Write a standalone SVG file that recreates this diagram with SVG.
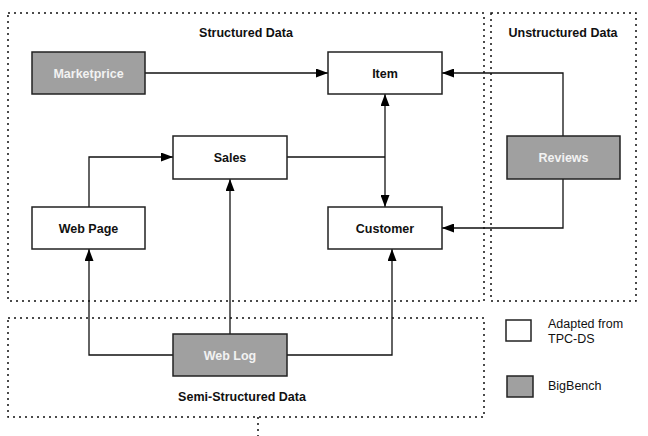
<svg xmlns="http://www.w3.org/2000/svg" width="648" height="436" viewBox="0 0 648 436">
<defs>
<marker id="arr" viewBox="0 0 12 10" refX="12" refY="5" markerWidth="12" markerHeight="9" markerUnits="userSpaceOnUse" orient="auto-start-reverse" preserveAspectRatio="none">
<path d="M0,0 L12,5 L0,10 z" fill="#000"/>
</marker>
<style>
.grp{fill:none;stroke:#111;stroke-width:1.5;stroke-dasharray:2 4}
.node{fill:#fff;stroke:#222;stroke-width:1.5}
.big{fill:#a0a0a0;stroke:#222;stroke-width:1.5}
.lbl{font-family:"Liberation Sans",Arial,sans-serif;font-size:12.5px;font-weight:bold;text-anchor:middle;fill:#111}
.lblw{font-family:"Liberation Sans",Arial,sans-serif;font-size:12.5px;font-weight:bold;text-anchor:middle;fill:#f2f2f2}
.leg{font-family:"Liberation Sans",Arial,sans-serif;font-size:12.5px;fill:#111}
.edge{fill:none;stroke:#111;stroke-width:1.3}
</style>
</defs>
<rect width="648" height="436" fill="#fff"/>
<g id="groups">
<rect class="grp" x="8" y="13" width="476" height="288"/>
<rect class="grp" x="491" y="13" width="145" height="288"/>
<rect class="grp" x="8" y="318" width="476" height="99"/>
<line class="grp" x1="258" y1="417" x2="258" y2="436"/>
<text class="lbl" x="246" y="37">Structured Data</text>
<text class="lbl" x="563" y="37">Unstructured Data</text>
<text class="lbl" x="242" y="401">Semi-Structured Data</text>
</g>
<g id="connectors">
<path class="edge" d="M145,73 H328" marker-end="url(#arr)"/>
<path class="edge" d="M563,136 V73 H442" marker-end="url(#arr)"/>
<path class="edge" d="M563,179 V228 H442" marker-end="url(#arr)"/>
<path class="edge" d="M287,157 H385"/>
<path class="edge" d="M385,94 V207" marker-start="url(#arr)" marker-end="url(#arr)"/>
<path class="edge" d="M89,207 V157 H173" marker-end="url(#arr)"/>
<path class="edge" d="M230,334 V179" marker-end="url(#arr)"/>
<path class="edge" d="M173,355 H89 V249" marker-end="url(#arr)"/>
<path class="edge" d="M287,355 H392 V249" marker-end="url(#arr)"/>
</g>
<g id="marketprice"><rect class="big" x="32" y="52" width="113" height="42"/><text class="lblw" x="88.5" y="77.5">Marketprice</text></g>
<g id="item"><rect class="node" x="328" y="52" width="114" height="42"/><text class="lbl" x="385" y="77.5">Item</text></g>
<g id="sales"><rect class="node" x="173" y="136" width="114" height="43"/><text class="lbl" x="230" y="162">Sales</text></g>
<g id="reviews"><rect class="big" x="507" y="136" width="113" height="43"/><text class="lblw" x="563.5" y="162">Reviews</text></g>
<g id="webpage"><rect class="node" x="32" y="207" width="113" height="42"/><text class="lbl" x="88.5" y="232.5">Web Page</text></g>
<g id="customer"><rect class="node" x="328" y="207" width="114" height="42"/><text class="lbl" x="385" y="232.5">Customer</text></g>
<g id="weblog"><rect class="big" x="173" y="334" width="114" height="42"/><text class="lblw" x="230" y="359.5">Web Log</text></g>
<g id="legend">
<rect class="node" x="506" y="320" width="25" height="21"/>
<text class="leg" x="548" y="328">Adapted from</text>
<text class="leg" x="548" y="343">TPC-DS</text>
<rect class="big" x="507" y="376" width="26" height="21"/>
<text class="leg" x="548" y="390">BigBench</text>
</g>
</svg>
